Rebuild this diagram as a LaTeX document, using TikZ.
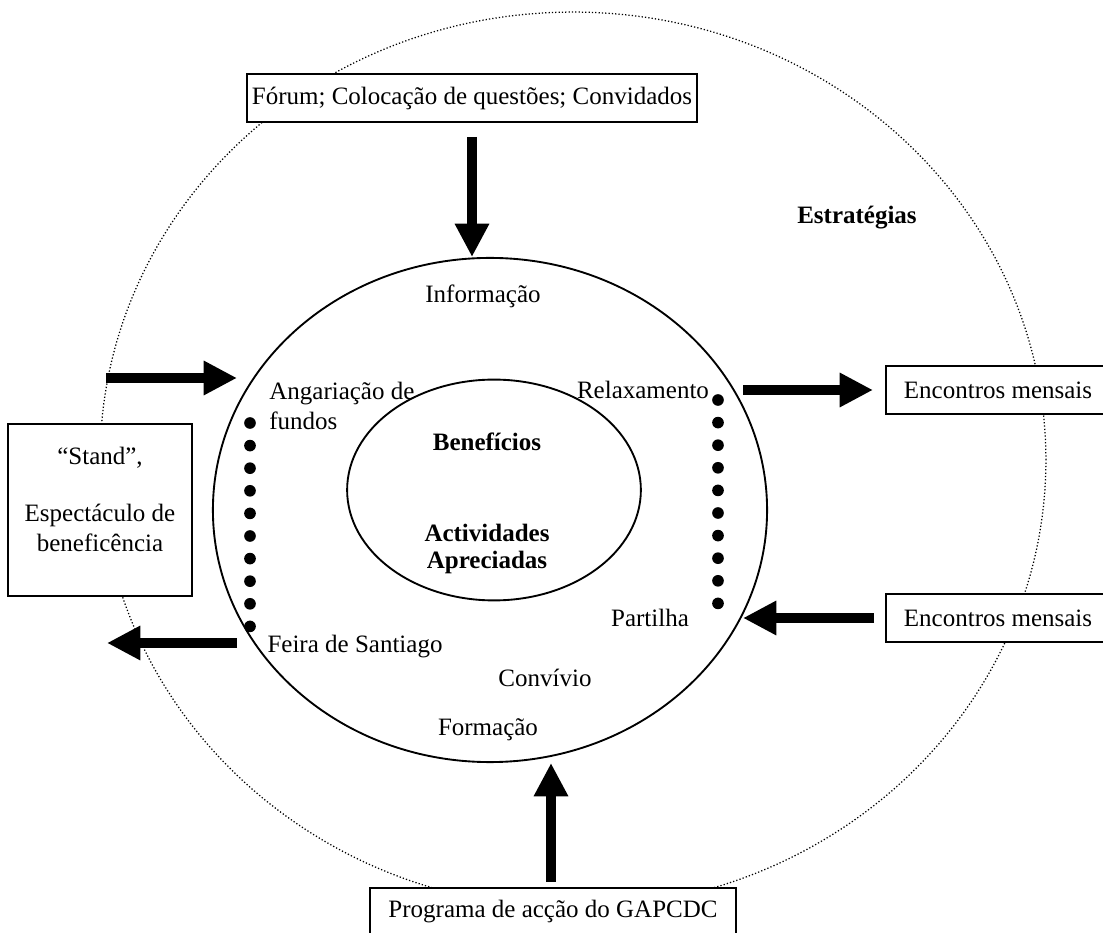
\documentclass[tikz,border=0pt]{standalone}
\usepackage{fontspec}
\setmainfont{Liberation Serif}
\usepackage{tikz}
\usetikzlibrary{arrows.meta,shapes,positioning}

\begin{document}
\begin{tikzpicture}[x=0.48pt,y=-0.48pt,font=\fontsize{12}{14.4}\selectfont,
    box/.style={rectangle, draw, line width=0.9pt, inner sep=0pt},
    fat/.style={line width=5pt, -{Triangle[width=15.5pt,length=16pt]}},
    ring/.style={ellipse, draw, inner sep=0pt}]
      \useasboundingbox (0,0) rectangle (1103,933);
      % the three rings
      \node[ring, densely dotted, line width=0.6pt, minimum width=454pt, minimum height=430pt] at (573,460) (outer) {};
      \node[ring, line width=0.9pt, minimum width=266pt, minimum height=242pt] at (490,510) (mid) {};
      \node[ring, line width=0.9pt, minimum width=141pt, minimum height=106pt] at (494,490) (inner) {};
      % boxes round the outside
      \node[box, fill=white, minimum width=216pt, minimum height=23pt] at (472,98) (forum) {Fórum; Colocação de questões; Convidados};
      \node[box, fill=white, minimum width=176pt, minimum height=23pt] at (553,912) (prog) {Programa de acção do GAPCDC};
      \node[box, fill=white, minimum width=107.5pt, minimum height=23pt] at (998,390) (enc1) {Encontros mensais};
      \node[box, fill=white, minimum width=107.5pt, minimum height=23pt] at (998,618) (enc2) {Encontros mensais};
      \node[box, fill=white, align=center, minimum width=88pt, minimum height=82.6pt] at (100,510) (stand) {“Stand”,\\[13pt]Espectáculo de\\beneficência\\[-4pt]};
      \node at (857,218) (estr) {\textbf{Estratégias}};
      % texts inside the rings
      \node at (483,296) (info) {Informação};
      \node[align=left, anchor=west] at (262,406) (angar) {Angariação de\\fundos};
      \node at (643,390) (relax) {Relaxamento};
      \node at (487,442) (benef) {\textbf{Benefícios}};
      \node[align=center, font=\fontsize{12}{13.4}\selectfont\bfseries] at (487,549) (activ) {Actividades\\Apreciadas};
      \node at (650,618) (part) {Partilha};
      \node at (355,647) (feira) {Feira de Santiago};
      \node at (545,678) (conv) {Convívio};
      \node at (488,730) (form) {Formação};
      % dotted columns
      \foreach \i in {0,...,9} {
        \fill (250,423+\i*22.6) circle (2.8pt);
        \fill (718,400+\i*22.6) circle (2.8pt);
      }
      % arrow ends
      \coordinate (dtail) at (472,137);
      \coordinate (dtip) at (472,257);
      \coordinate (utail) at (551,882);
      \coordinate (utip) at (551,763);
      \coordinate (rtail) at (743,390);
      \coordinate (rtip) at (873,390);
      \coordinate (ltail) at (874,618);
      \coordinate (ltip) at (743,618);
      \coordinate (sin) at (106,378);
      \coordinate (sinb) at (237,378);
      \coordinate (sout) at (237,643);
      \coordinate (soutb) at (107,643);
      \draw[fat] (dtail) -- (dtip);
      \draw[fat] (utail) -- (utip);
      \draw[fat] (rtail) -- (rtip);
      \draw[fat] (ltail) -- (ltip);
      \draw[fat] (sin) -- (sinb);
      \draw[fat] (sout) -- (soutb);
\end{tikzpicture}
\end{document}
